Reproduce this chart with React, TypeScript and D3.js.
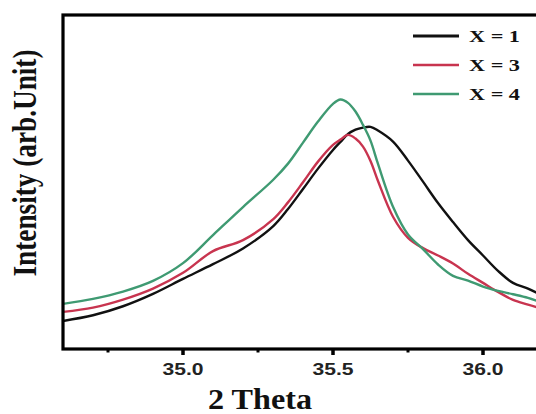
import React from "react";
import * as d3 from "d3";

const theta = [34.6, 34.7, 34.8, 34.9, 35.0, 35.1, 35.2, 35.3, 35.35, 35.4, 35.45, 35.5, 35.525, 35.55, 35.575, 35.6, 35.625, 35.65, 35.7, 35.75, 35.8, 35.85, 35.9, 35.95, 36.0, 36.05, 36.1, 36.15, 36.2];

const x1 = [8.4, 10.1, 12.8, 16.5, 21.0, 25.4, 30.1, 36.7, 41.9, 47.9, 54.0, 59.6, 62.0, 64.4, 65.7, 66.3, 66.5, 65.4, 62.1, 56.4, 50.1, 43.7, 38.0, 32.6, 28.0, 23.4, 19.8, 18.1, 15.9];
const x3 = [11.1, 12.4, 14.8, 18.1, 22.8, 29.3, 32.6, 38.8, 43.9, 49.9, 56.1, 61.1, 62.7, 64.1, 63.0, 60.6, 56.3, 50.3, 39.6, 33.3, 30.2, 28.0, 25.6, 22.5, 19.8, 17.1, 14.7, 13.3, 12.0];
const x4 = [13.5, 15.0, 17.2, 20.4, 25.7, 34.1, 42.5, 50.6, 55.5, 61.8, 68.1, 73.4, 74.7, 73.7, 71.1, 67.1, 62.4, 55.4, 42.6, 34.3, 29.9, 25.3, 21.9, 20.5, 18.7, 17.4, 16.4, 15.3, 13.8];

const seriesNames = ["X = 1", "X = 3", "X = 4"];
const seriesColors = ["#111111", "#c8344f", "#3f9a72"];
const majorTicks = [35.0, 35.5, 36.0];
const minorTicks = [34.75, 35.25, 35.75];

export default function App() {
  const W = 536, H = 414;
  const left = 63, right = 543, top = 15, bottom = 349;
  const x = d3.scaleLinear().domain([34.6, 36.2]).range([left, right]);
  const y = d3.scaleLinear().domain([0, 100]).range([bottom, top]);
  const allSeries = [x1, x3, x4];
  const line = d3
    .line<number>()
    .x((_, i) => x(theta[i]))
    .y((d) => y(d))
    .curve(d3.curveCatmullRom.alpha(0.5));

  const legendRows = [36, 65, 94];

  return (
    <svg width={W} height={H} style={{ position: "absolute", left: 0, top: 0, background: "#fff" }}>
      <defs>
        <clipPath id="plotclip">
          <rect x={left} y={top} width={right - left} height={bottom - top} />
        </clipPath>
      </defs>
      <rect x={0} y={0} width={W} height={H} fill="#fff" />
      <g clipPath="url(#plotclip)">
        {allSeries.map((s, i) => (
          <path key={i} d={line(s) || ""} fill="none" stroke={seriesColors[i]} strokeWidth={2.4} strokeLinejoin="round" />
        ))}
      </g>
      {/* frame */}
      <rect x={left} y={top} width={right - left} height={bottom - top} fill="none" stroke="#000" strokeWidth={3.2} />
      {/* ticks */}
      {majorTicks.map((t) => (
        <line key={"M" + t} x1={x(t)} x2={x(t)} y1={bottom} y2={bottom + 6} stroke="#000" strokeWidth={3.5} />
      ))}
      {minorTicks.map((t) => (
        <line key={"m" + t} x1={x(t)} x2={x(t)} y1={bottom} y2={bottom + 3.5} stroke="#000" strokeWidth={3} />
      ))}
      {majorTicks.map((t) => (
        <text
          key={"L" + t}
          x={x(t)}
          y={375}
          textAnchor="middle"
          fontFamily="'Liberation Sans', Arial, sans-serif"
          fontWeight="bold"
          fontSize={17}
          textLength={41}
          lengthAdjust="spacingAndGlyphs"
          fill="#222"
        >
          {t.toFixed(1)}
        </text>
      ))}
      <text
        x={260}
        y={409}
        textAnchor="middle"
        fontFamily="'Liberation Serif', 'Times New Roman', serif"
        fontWeight="bold"
        fontSize={29}
        textLength={104}
        lengthAdjust="spacingAndGlyphs"
        fill="#111"
      >
        2 Theta
      </text>
      <g transform="translate(36,163) scale(1.27,1) rotate(-90)">
        <text
          x={0}
          y={0}
          textAnchor="middle"
          fontFamily="'Liberation Serif', 'Times New Roman', serif"
          fontWeight="bold"
          fontSize={27}
          textLength={227}
          lengthAdjust="spacingAndGlyphs"
          fill="#111"
        >
          Intensity (arb.Unit)
        </text>
      </g>
      {/* legend */}
      {seriesNames.map((n, i) => (
        <g key={n}>
          <line x1={413} x2={459} y1={legendRows[i]} y2={legendRows[i]} stroke={seriesColors[i]} strokeWidth={i === 0 ? 3 : 2.6} />
          <text
            x={469}
            y={legendRows[i] + 6}
            fontFamily="'Liberation Serif', 'Times New Roman', serif"
            fontWeight="bold"
            fontSize={16.5}
            textLength={51}
            lengthAdjust="spacingAndGlyphs"
            fill="#111"
          >
            {n}
          </text>
        </g>
      ))}
    </svg>
  );
}
